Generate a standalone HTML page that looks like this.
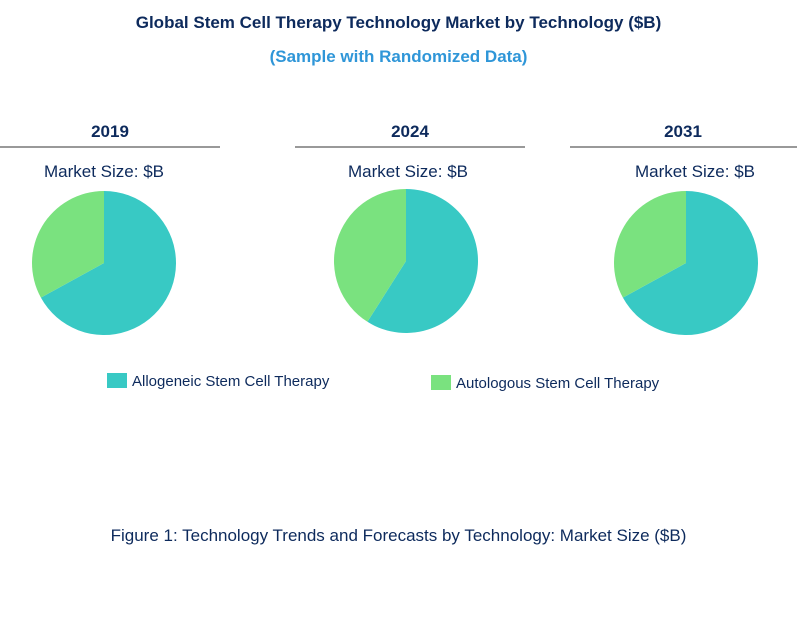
<!DOCTYPE html>
<html><head><meta charset="utf-8"><style>
body{margin:0;width:797px;height:621px;background:#fff;font-family:"Liberation Sans",Arial,sans-serif;position:relative;overflow:hidden}
.t{position:absolute;left:0;width:797px;text-align:center}
</style></head><body>
<div class="t" style="top:13px;font-size:17px;font-weight:bold;color:#0d2a5c">Global Stem Cell Therapy Technology Market by Technology ($B)</div>
<div class="t" style="top:47px;font-size:17px;font-weight:bold;color:#2f96d8">(Sample with Randomized Data)</div>
<svg id="s" width="797" height="621" style="position:absolute;left:0;top:0"></svg>
<div class="t" style="top:526px;font-size:17px;color:#0d2a5c">Figure 1: Technology Trends and Forecasts by Technology: Market Size ($B)</div>
<script>
const years=["2019","2024","2031"];
const allogeneic=[6.7,5.9,6.7];
const autologous=[3.3,4.1,3.3];
const seriesNames=["Allogeneic  Stem  Cell Therapy","Autologous  Stem  Cell Therapy"];
const colors=["#38c9c4","#7ae27f"];
const NS="http://www.w3.org/2000/svg",s=document.getElementById('s');
function mk(t,a){const e=document.createElementNS(NS,t);for(const k in a)e.setAttribute(k,a[k]);s.appendChild(e);return e;}
const panels=[{cx:104,cy:263,lx:0,lw:220,hx:110,mx:104},{cx:406,cy:261,lx:295,lw:230,hx:410,mx:408},{cx:686,cy:263,lx:570,lw:227,hx:683,mx:695}];
const r=72;
function pt(cx,cy,a){return [cx+r*Math.sin(a),cy-r*Math.cos(a)];}
years.forEach((y,i)=>{
 const p=panels[i];
 let e=mk('text',{x:p.hx,y:137,'text-anchor':'middle','font-size':17,'font-weight':'bold',fill:'#0d2a5c'});e.textContent=y;
 
 e=mk('line',{x1:p.lx,x2:p.lx+p.lw,y1:147,y2:147,stroke:'#333','stroke-width':1});
 
 e=mk('text',{x:p.mx,y:177,'text-anchor':'middle','font-size':17,fill:'#0d2a5c'});e.textContent='Market Size: $B';
 
 const vals=[allogeneic[i],autologous[i]],tot=vals[0]+vals[1];let a0=0;
 vals.forEach((v,j)=>{
  const a1=a0+v/tot*2*Math.PI,[x0,y0]=pt(p.cx,p.cy,a0),[x1,y1]=pt(p.cx,p.cy,a1);
  const sl=mk('path',{d:`M${p.cx},${p.cy}L${x0},${y0}A${r},${r} 0 ${a1-a0>Math.PI?1:0} 1 ${x1},${y1}Z`,fill:colors[j]});
  
  a0=a1;
 });
});
const leg=[{x:107,y:373},{x:431,y:375}];
seriesNames.forEach((n,j)=>{
 let e=mk('rect',{x:leg[j].x,y:leg[j].y,width:20,height:15,fill:colors[j]});
 
 e=mk('text',{x:leg[j].x+25,y:leg[j].y+13,'font-size':15,fill:'#0d2a5c','xml:space':'preserve'});e.textContent=n;
 
});
</script>
</body></html>
